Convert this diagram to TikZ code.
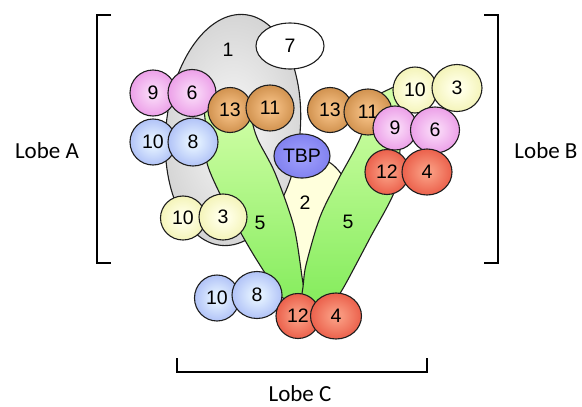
\documentclass[tikz,border=0pt]{standalone}
\usepackage{fontspec}
\setmainfont{Liberation Sans}
\newfontfamily\lobefont{Carlito}
\usetikzlibrary{shapes.geometric}

\definecolor{pinkin}{RGB}{248,210,246}
\definecolor{pinkout}{RGB}{234,152,230}
\definecolor{bluein}{RGB}{224,238,255}
\definecolor{blueout}{RGB}{170,188,246}
\definecolor{brownin}{RGB}{242,188,128}
\definecolor{brownout}{RGB}{204,140,72}
\definecolor{yelin}{RGB}{255,255,230}
\definecolor{yelout}{RGB}{242,242,178}
\definecolor{redin}{RGB}{248,150,124}
\definecolor{redout}{RGB}{233,88,68}
\definecolor{tbpin}{RGB}{154,154,250}
\definecolor{tbpout}{RGB}{126,126,238}
\definecolor{grayin}{RGB}{240,240,240}
\definecolor{grayout}{RGB}{208,208,208}
\definecolor{greenlight}{RGB}{212,255,170}
\definecolor{greendark}{RGB}{132,236,92}
\definecolor{paleyel}{RGB}{255,255,220}
\definecolor{edge}{RGB}{30,30,30}

% radial fill: light core, fading to the rim colour near the outline
\newcommand\ballshading[3]{%
  \pgfdeclareradialshading{#1}{\pgfpoint{0bp}{0bp}}%
    {color(0bp)=(#2); color(6bp)=(#2); color(28bp)=(#3); color(50bp)=(#3)}}
\ballshading{pinkshade}{pinkin}{pinkout}
\ballshading{blueshade}{bluein}{blueout}
\ballshading{brownshade}{brownin}{brownout}
\ballshading{yelshade}{yelin}{yelout}
\ballshading{redshade}{redin}{redout}
\ballshading{tbpshade}{tbpin}{tbpout}
\ballshading{grayshade}{grayin}{grayout}

\tikzset{
  ball/.style={ellipse, draw=edge, line width=1.1pt, inner sep=0pt,
    font=\fontsize{19.5}{19.5}\selectfont},
  pinkball/.style={ball, shade, shading=pinkshade},
  blueball/.style={ball, shade, shading=blueshade},
  brownball/.style={ball, shade, shading=brownshade},
  yelball/.style={ball, shade, shading=yelshade},
  redball/.style={ball, shade, shading=redshade},
  sz/.style 2 args={minimum width=#1pt, minimum height=#2pt},
  bracket/.style={line width=2.6pt, line cap=butt},
  lobe/.style={font=\lobefont\fontsize{23}{23}\selectfont},
  tag/.style={font=\fontsize{19.5}{19.5}\selectfont},
  outline/.style={draw=edge, line width=1.1pt},
}

\begin{document}
\begin{tikzpicture}[x=1pt, y=-1pt]
\useasboundingbox (0,0) rectangle (582,407);

% brackets
\coordinate (al1) at (111,15);  \coordinate (al2) at (97,15);
\coordinate (al3) at (97,263);  \coordinate (al4) at (111,263);
\draw[bracket] (al1) -- (al2) -- (al3) -- (al4);
\coordinate (br1) at (484,15);  \coordinate (br2) at (498,15);
\coordinate (br3) at (498,263); \coordinate (br4) at (484,263);
\draw[bracket] (br1) -- (br2) -- (br3) -- (br4);
\coordinate (cl1) at (177,358); \coordinate (cl2) at (177,372);
\coordinate (cl3) at (427,372); \coordinate (cl4) at (427,358);
\draw[bracket] (cl1) -- (cl2) -- (cl3) -- (cl4);

\node[lobe] (lobeA) at (47,151) {Lobe A};
\node[lobe] (lobeB) at (546,151) {Lobe B};
\node[lobe] (lobeC) at (300,394) {Lobe C};

% subunit 2 (behind)
\path[outline, fill=paleyel]
  (280,175) -- (300,150) -- (318,158)
  .. controls (330,160) and (340,168) .. (352,192)
  -- (322,262) -- (303,292) -- (284,250) -- (278,200) -- cycle;

% subunit 1
\path[outline, shade, shading=grayshade]
  (233,130) ellipse[x radius=67, y radius=116, rotate=-6];
\node[tag] (s1) at (228,50) {1};

% subunit 7
\node[ball, fill=white, sz={68}{46}] (s7) at (290,46) {7};

% subunit 5, left copy
\path[outline, top color=greenlight, bottom color=greendark]
  (252,100) -- (203,100)
  -- plot[smooth] coordinates {(203,100) (206,130) (207,163) (223,200) (242,235) (258,262) (280,295) (295,306)}
  -- (308,304)
  -- plot[smooth] coordinates {(308,304) (303,283) (294,227) (275,173) (258,140) (252,120) (252,100)}
  -- cycle;
\node[tag] (s5l) at (260,223) {5};

% subunit 5, right copy
\path[outline, top color=greenlight, bottom color=greendark]
  (358,104) -- (398,85)
  -- plot[smooth] coordinates {(398,85) (402,110) (400,150) (395,190) (370,238) (345,285) (332,306)}
  -- (300,306)
  -- plot[smooth] coordinates {(300,306) (303,287) (306,265) (320,217) (338,180) (362,133) (358,104)}
  -- cycle;
\node[tag] (s5r) at (348,222) {5};

\node[tag] (s2) at (305,203) {2};

% TBP
\node[ball, shade, shading=tbpshade, sz={56}{44}] (tbp) at (302,156) {TBP};

% lobe A modules
\node[pinkball, sz={46}{46}] (a9) at (153,93) {9};
\node[pinkball, sz={48}{47}] (a6) at (192,93) {6};
\node[blueball, sz={46}{46}] (a10) at (153,142) {10\hspace{6pt}};
\node[blueball, sz={50}{48}] (a8) at (193,142) {8};
\node[brownball, sz={44}{45}] (a13) at (230,110) {13};
\node[brownball, sz={48}{46}] (a11) at (270,108) {11};
\node[yelball, sz={45}{44}] (a10y) at (183,218) {10};
\node[yelball, sz={48}{46}] (a3) at (223,217) {3};

% lobe B modules
\node[brownball, sz={45}{45}] (b13) at (330,110) {13};
\node[brownball, sz={48}{46}] (b11) at (368,112) {11};
\node[yelball, sz={44}{46}] (b10) at (415,90) {10};
\node[yelball, sz={50}{47}] (b3) at (457,88) {3};
\node[pinkball, sz={44}{44}] (b9) at (395,128) {9};
\node[pinkball, sz={49}{46}] (b6) at (435,130) {6};
\node[redball, sz={44}{45}] (b12) at (387,172) {12};
\node[redball, sz={50}{46}] (b4) at (427,172) {4};

% lobe C modules
\node[blueball, sz={45}{46}] (c10) at (217,298) {10\hspace{6pt}};
\node[blueball, sz={50}{47}] (c8) at (257,295) {8};
\node[redball, sz={44}{45}] (c12) at (298,316) {12\hspace{4pt}};
\node[redball, sz={51}{46}] (c4) at (336,316) {4};

\end{tikzpicture}
\end{document}
